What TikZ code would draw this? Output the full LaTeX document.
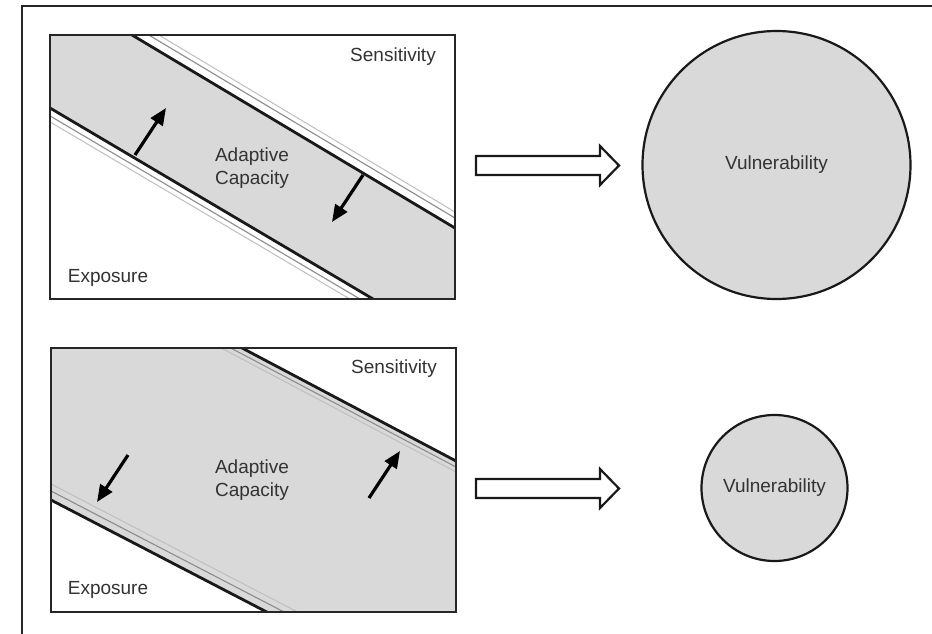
\documentclass[tikz,border=0pt]{standalone}
\usepackage{fontspec}
\setmainfont{Liberation Sans}
\usetikzlibrary{arrows.meta}
\definecolor{bandgray}{HTML}{D9D9D9}
\definecolor{txtgray}{HTML}{333333}
\tikzset{
  panelbox/.style={draw=black!85, line width=2.6pt},
  edgeline/.style={draw=black!90, line width=2.8pt},
  ghostA/.style={draw=black!45, line width=1.1pt},
  ghostB/.style={draw=black!25, line width=1pt},
  lbl/.style={text=txtgray, font=\fontsize{19}{23}\selectfont, inner sep=0pt, align=center},
  shift arrow/.style={draw=black, line width=3.2pt, -{Triangle[length=17pt,width=14pt]}},
  blockarrow/.style={draw=black!90, fill=white, line width=2.2pt, line join=miter},
  vuln/.style={circle, draw=black!90, fill=bandgray, line width=2.2pt, inner sep=0pt, text=txtgray, font=\fontsize{19}{23}\selectfont},
}
\begin{document}
\begin{tikzpicture}[x=1pt,y=-1pt]
\useasboundingbox (0,0) rectangle (932,634);
\fill[white] (0,0) rectangle (932,634);
% outer frame (only top and left visible)
\coordinate (frameTR) at (932,6);
\coordinate (frameTL) at (22,6);
\coordinate (frameBL) at (22,634);
\draw[black!85, line width=2pt] (frameTR) -- (frameTL) -- (frameBL);

% ---------- top panel ----------
\coordinate (p1nw) at (50,35);
\coordinate (p1se) at (455,299);
\begin{scope}
  \clip (p1nw) rectangle (p1se);
  \fill[bandgray] (50,35) -- (132,35) -- (455,228) -- (455,299) -- (373,299) -- (50,108) -- cycle;
  \draw[ghostA] (40,-30) -- (470,227);
  \draw[ghostB] (40,-36) -- (470,221);
  \draw[ghostA] (40,110) -- (470,364);
  \draw[ghostB] (40,116) -- (470,370);
  \draw[edgeline] (40,-20) -- (470,237);
  \draw[edgeline] (40,102.1) -- (470,356.3);
\end{scope}
\node[panelbox, rectangle, minimum width=405pt, minimum height=264pt, inner sep=0pt] (panel1) at (252.5,167) {};
\node[lbl] (sens1) at (393,57) {Sensitivity};
\node[lbl] (adap1) at (252,168) {Adaptive\\Capacity};
\node[lbl] (expo1) at (108,278) {Exposure};
\coordinate (a1s) at (135,155);
\coordinate (a1e) at (166,108);
\coordinate (a2s) at (363,175);
\coordinate (a2e) at (332,222);
\draw[shift arrow] (a1s) -- (a1e);
\draw[shift arrow] (a2s) -- (a2e);

% ---------- bottom panel ----------
\coordinate (p2nw) at (51,348);
\coordinate (p2se) at (456,612);
\begin{scope}
  \clip (p2nw) rectangle (p2se);
  \fill[bandgray] (51,348) -- (242,348) -- (456,461) -- (456,612) -- (267,612) -- (51,500) -- cycle;
  \draw[ghostA] (40,247.3) -- (470,474.4);
  \draw[ghostB] (40,252.3) -- (470,479.4);
  \draw[ghostA] (40,485.3) -- (470,708.5);
  \draw[ghostB] (40,478.3) -- (470,701.5);
  \draw[edgeline] (40,241.3) -- (470,468.4);
  \draw[edgeline] (40,494.3) -- (470,717.5);
\end{scope}
\node[panelbox, rectangle, minimum width=405pt, minimum height=264pt, inner sep=0pt] (panel2) at (253.5,480) {};
\node[lbl] (sens2) at (394,369) {Sensitivity};
\node[lbl] (adap2) at (252,480) {Adaptive\\Capacity};
\node[lbl] (expo2) at (108,590) {Exposure};
\coordinate (b1s) at (128,455);
\coordinate (b1e) at (97,502);
\coordinate (b2s) at (369,498);
\coordinate (b2e) at (400,451);
\draw[shift arrow] (b1s) -- (b1e);
\draw[shift arrow] (b2s) -- (b2e);

% ---------- block arrows ----------
\coordinate (ba1) at (476,165.5);
\draw[blockarrow] (ba1) ++(0,-9.5) -- ++(124,0) -- ++(0,-10) -- ++(19,19.5) -- ++(-19,19.5) -- ++(0,-10) -- ++(-124,0) -- cycle;
\coordinate (ba2) at (476,488.5);
\draw[blockarrow] (ba2) ++(0,-9.5) -- ++(124,0) -- ++(0,-10) -- ++(19,19.5) -- ++(-19,19.5) -- ++(0,-10) -- ++(-124,0) -- cycle;

% ---------- vulnerability circles ----------
\node[vuln, minimum size=268pt] (vul1) at (776.5,165) {Vulnerability};
\node[vuln, minimum size=146pt] (vul2) at (774.5,488) {Vulnerability};
\end{tikzpicture}
\end{document}
